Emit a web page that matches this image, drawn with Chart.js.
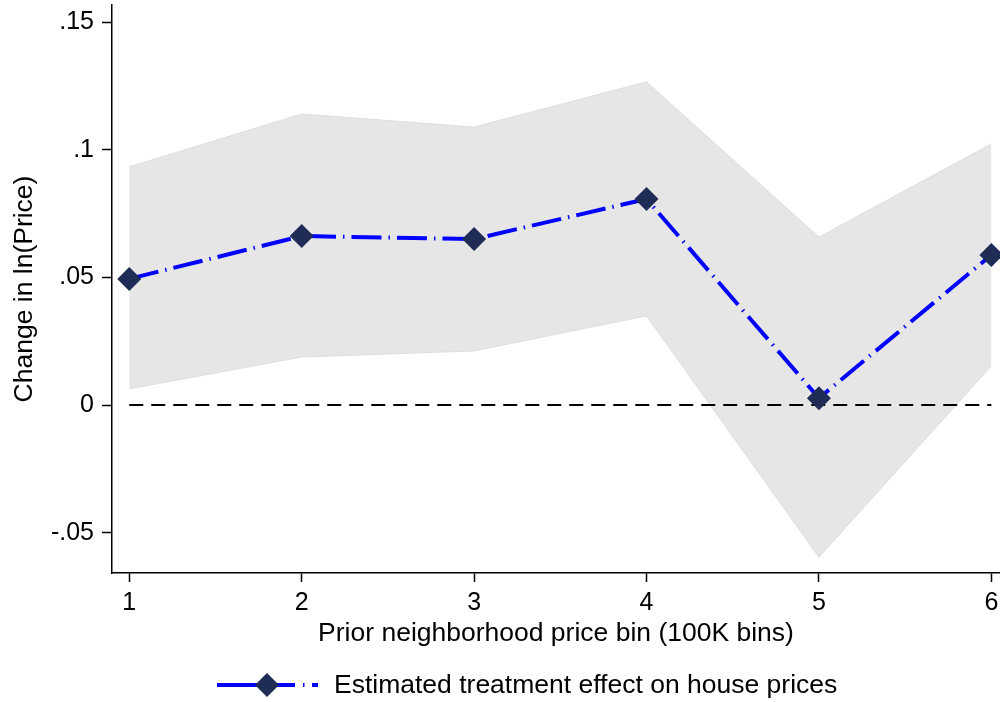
<!DOCTYPE html>
<html>
<head>
<meta charset="utf-8">
<script src="https://cdn.jsdelivr.net/npm/chart.js@4"></script>
<style>
  html, body { margin: 0; padding: 0; background: #fff; }
  #wrap { width: 1000px; height: 702px; }
</style>
</head>
<body>
<div id="wrap"><canvas id="chart" width="1000" height="702"></canvas></div>
<script>
const bins = [1, 2, 3, 4, 5, 6];
const estimate = [0.0494, 0.0662, 0.0650, 0.0807, 0.0027, 0.0588];
const upperCI = [0.0933, 0.1140, 0.1089, 0.1266, 0.0658, 0.1023];
const lowerCI = [0.0063, 0.0188, 0.0212, 0.0349, -0.0596, 0.0153];
const yTicks = [-0.05, 0, 0.05, 0.1, 0.15];
const yTickLabels = ['-.05', '0', '.05', '.1', '.15'];
const xTicks = [1, 2, 3, 4, 5, 6];
const zeroLine = [0, 0];

const FONT = "'Liberation Sans', Arial, Helvetica, sans-serif";
const seriesDash = [30, 7, 1.5, 7];

function pts(ys) {
  return ys.map((y, i) => ({ x: bins[i], y: y }));
}

// draws the single legend entry under the x-axis title
const legendPlugin = {
  id: 'stataLegend',
  afterDraw(chart) {
    const ctx = chart.ctx;
    const y = 685;
    ctx.save();
    ctx.strokeStyle = '#0000ff';
    ctx.lineWidth = 4;
    ctx.setLineDash([78, 8, 1.5, 7.5, 7, 100]);
    ctx.beginPath();
    ctx.moveTo(217, y);
    ctx.lineTo(318, y);
    ctx.stroke();
    ctx.setLineDash([]);
    ctx.fillStyle = '#1f2c56';
    ctx.beginPath();
    ctx.moveTo(267, y - 12);
    ctx.lineTo(279, y);
    ctx.lineTo(267, y + 12);
    ctx.lineTo(255, y);
    ctx.closePath();
    ctx.fill();
    ctx.fillStyle = '#000';
    ctx.font = '26.5px ' + FONT;
    ctx.textBaseline = 'middle';
    ctx.textAlign = 'left';
    ctx.fillText('Estimated treatment effect on house prices', 334, y + 1);
    ctx.restore();
  }
};

const ctx = document.getElementById('chart').getContext('2d');
new Chart(ctx, {
  type: 'line',
  data: {
    datasets: [
      {
        label: 'Estimated treatment effect on house prices',
        data: pts(estimate),
        borderColor: '#0000ff',
        borderWidth: 4,
        borderDash: seriesDash,
        pointStyle: 'rectRot',
        pointRadius: 12,
        pointBackgroundColor: '#1f2c56',
        pointBorderWidth: 0,
        tension: 0,
        fill: false,
        order: 0
      },
      {
        label: 'zero',
        data: zeroLine.map((y, i) => ({ x: i === 0 ? bins[0] : bins[bins.length - 1], y: y })),
        borderColor: '#000',
        borderWidth: 2,
        borderDash: [14, 8],
        pointRadius: 0,
        fill: false,
        order: 1
      },
      {
        label: 'lower',
        data: pts(lowerCI),
        borderColor: '#dedede',
        borderWidth: 1,
        pointRadius: 0,
        fill: false,
        order: 2
      },
      {
        label: 'upper',
        data: pts(upperCI),
        borderColor: '#dedede',
        borderWidth: 1,
        backgroundColor: '#e6e6e6',
        pointRadius: 0,
        fill: '-1',
        order: 3
      }
    ]
  },
  options: {
    responsive: false,
    animation: false,
    layout: { autoPadding: false, padding: { top: 5, right: 0, left: 0, bottom: 50 } },
    plugins: {
      legend: { display: false },
      tooltip: { enabled: false }
    },
    scales: {
      x: {
        type: 'linear',
        min: 0.9,
        max: 6.05,
        afterBuildTicks: s => { s.ticks = xTicks.map(v => ({ value: v })); },
        afterFit: s => { s.height = 79; s.paddingLeft = 0; s.paddingRight = 0; },
        grid: { display: true, drawOnChartArea: false, tickLength: 9, tickColor: '#000', tickWidth: 1.5 },
        border: { display: true, color: '#000', width: 1.5 },
        ticks: {
          color: '#000',
          padding: 6,
          maxRotation: 0,
          font: { family: FONT, size: 25 },
          callback: v => String(v)
        },
        title: {
          display: true,
          text: 'Prior neighborhood price bin (100K bins)',
          color: '#000',
          font: { family: FONT, size: 26.5 },
          padding: { top: 0, bottom: 2 }
        }
      },
      y: {
        min: -0.0658,
        max: 0.1567,
        afterBuildTicks: s => { s.ticks = yTicks.map(v => ({ value: v })); },
        afterFit: s => { s.width = 112; s.paddingTop = 0; s.paddingBottom = 0; },
        grid: { display: true, drawOnChartArea: false, tickLength: 10, tickColor: '#000', tickWidth: 1.5 },
        border: { display: true, color: '#000', width: 1.5 },
        ticks: {
          color: '#000',
          padding: 8,
          font: { family: FONT, size: 25 },
          callback: (v) => {
            const i = yTicks.findIndex(t => Math.abs(t - v) < 1e-9);
            return i >= 0 ? yTickLabels[i] : '';
          }
        },
        title: {
          display: true,
          text: 'Change in ln(Price)',
          color: '#000',
          font: { family: FONT, size: 26.5 },
          padding: { top: 9, bottom: 0 }
        }
      }
    }
  },
  plugins: [legendPlugin]
});
</script>
</body>
</html>
